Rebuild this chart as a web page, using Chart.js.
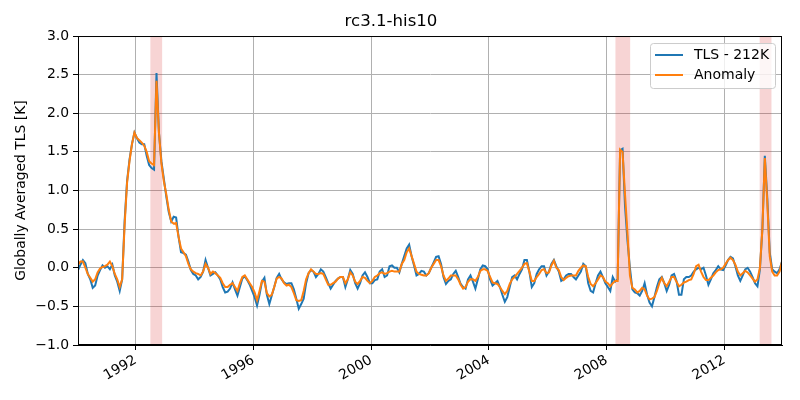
<!DOCTYPE html>
<html>
<head>
<meta charset="utf-8">
<script src="https://cdn.jsdelivr.net/npm/chart.js@4.4.0/dist/chart.umd.min.js"></script>
<style>
  body { margin: 0; background: #fff; }
  canvas { display: block; }
</style>
</head>
<body>
<canvas id="grafica" width="800" height="400"></canvas>
<script>
// monthly series, Jan 1990 .. Dec 2013 (one row per year)
const anioInicio = 1990;
const tls = [
  -0.03, 0.04, 0.10, 0.06, -0.08, -0.15, -0.26, -0.23, -0.10, -0.03, 0.03, 0.00,
  0.02, -0.02, 0.04, -0.10, -0.18, -0.30, -0.15, 0.60, 1.12, 1.40, 1.60, 1.75,
  1.68, 1.62, 1.60, 1.60, 1.45, 1.33, 1.29, 1.27, 2.52, 1.75, 1.38, 1.15,
  0.92, 0.72, 0.60, 0.66, 0.65, 0.40, 0.20, 0.19, 0.17, 0.08, -0.03, -0.08,
  -0.10, -0.15, -0.12, -0.05, 0.10, 0.00, -0.10, -0.08, -0.06, -0.10, -0.15, -0.25,
  -0.32, -0.31, -0.27, -0.19, -0.28, -0.36, -0.25, -0.14, -0.11, -0.16, -0.22, -0.30,
  -0.38, -0.49, -0.35, -0.18, -0.13, -0.35, -0.47, -0.36, -0.25, -0.13, -0.08, -0.15,
  -0.19, -0.21, -0.20, -0.20, -0.28, -0.40, -0.53, -0.47, -0.40, -0.20, -0.07, -0.03,
  -0.05, -0.12, -0.08, -0.02, -0.05, -0.12, -0.20, -0.27, -0.22, -0.17, -0.14, -0.12,
  -0.12, -0.25, -0.15, -0.03, -0.08, -0.20, -0.27, -0.20, -0.10, -0.06, -0.12, -0.20,
  -0.20, -0.16, -0.15, -0.05, -0.02, -0.12, -0.10, 0.02, 0.03, 0.00, 0.00, -0.06,
  0.05, 0.15, 0.25, 0.30, 0.15, 0.03, -0.10, -0.08, -0.04, -0.05, -0.10, -0.07,
  0.00, 0.07, 0.14, 0.15, 0.05, -0.12, -0.21, -0.17, -0.15, -0.08, -0.04, -0.12,
  -0.21, -0.25, -0.27, -0.15, -0.10, -0.18, -0.27, -0.15, -0.02, 0.03, 0.02, -0.02,
  -0.15, -0.23, -0.20, -0.17, -0.25, -0.35, -0.44, -0.38, -0.25, -0.12, -0.10, -0.15,
  -0.08, -0.02, 0.10, 0.10, -0.05, -0.25, -0.20, -0.08, -0.02, 0.02, 0.02, -0.10,
  -0.05, 0.05, 0.10, 0.02, -0.05, -0.17, -0.15, -0.10, -0.08, -0.08, -0.12, -0.15,
  -0.10, -0.05, 0.05, 0.02, -0.20, -0.30, -0.32, -0.20, -0.10, -0.05, -0.12, -0.20,
  -0.25, -0.30, -0.12, -0.18, -0.15, 1.52, 1.54, 0.80, 0.35, 0.00, -0.28, -0.32,
  -0.33, -0.36, -0.30, -0.20, -0.35, -0.45, -0.50, -0.38, -0.25, -0.15, -0.12, -0.20,
  -0.30, -0.22, -0.10, -0.08, -0.17, -0.35, -0.35, -0.15, -0.12, -0.12, -0.10, -0.05,
  -0.02, 0.00, -0.02, 0.00, -0.10, -0.22, -0.15, -0.07, -0.03, 0.02, -0.02, -0.03,
  0.03, 0.10, 0.14, 0.12, 0.02, -0.10, -0.17, -0.10, -0.02, 0.00, -0.05, -0.12,
  -0.20, -0.24, -0.02, 0.50, 1.45, 0.90, 0.20, -0.02, -0.05, -0.07, -0.02, 0.08
];
const anomalia = [
  0.04, 0.08, 0.08, 0.00, -0.08, -0.13, -0.18, -0.15, -0.06, -0.01, 0.01, 0.02,
  0.04, 0.08, 0.02, -0.08, -0.15, -0.25, -0.15, 0.55, 1.10, 1.38, 1.60, 1.75,
  1.68, 1.65, 1.62, 1.58, 1.50, 1.38, 1.35, 1.33, 2.42, 1.75, 1.35, 1.12,
  0.95, 0.75, 0.60, 0.57, 0.58, 0.40, 0.25, 0.20, 0.15, 0.05, -0.02, -0.05,
  -0.07, -0.08, -0.10, -0.05, 0.05, 0.00, -0.08, -0.05, -0.07, -0.10, -0.13, -0.20,
  -0.25, -0.25, -0.22, -0.20, -0.25, -0.30, -0.20, -0.12, -0.10, -0.15, -0.20, -0.25,
  -0.32, -0.42, -0.30, -0.17, -0.18, -0.33, -0.37, -0.35, -0.25, -0.14, -0.12, -0.14,
  -0.20, -0.23, -0.22, -0.25, -0.33, -0.42, -0.43, -0.42, -0.30, -0.15, -0.07, -0.02,
  -0.05, -0.08, -0.08, -0.07, -0.08, -0.15, -0.22, -0.22, -0.20, -0.18, -0.14, -0.12,
  -0.12, -0.20, -0.15, -0.06, -0.10, -0.18, -0.21, -0.17, -0.12, -0.13, -0.17, -0.20,
  -0.17, -0.12, -0.10, -0.07, -0.06, -0.08, -0.07, -0.05, -0.04, -0.05, -0.05, -0.05,
  0.05, 0.10, 0.20, 0.25, 0.15, 0.05, -0.05, -0.08, -0.09, -0.10, -0.10, -0.07,
  0.00, 0.05, 0.10, 0.10, 0.02, -0.10, -0.17, -0.14, -0.10, -0.10, -0.10, -0.15,
  -0.22, -0.27, -0.25, -0.18, -0.15, -0.15, -0.17, -0.12, -0.04, -0.02, -0.02, -0.04,
  -0.12, -0.19, -0.20, -0.21, -0.25, -0.30, -0.34, -0.30, -0.21, -0.15, -0.12, -0.08,
  -0.04, 0.00, 0.05, 0.06, -0.05, -0.17, -0.17, -0.12, -0.08, -0.03, -0.02, -0.07,
  -0.06, 0.03, 0.09, 0.00, -0.03, -0.12, -0.16, -0.13, -0.11, -0.10, -0.10, -0.10,
  -0.04, 0.00, 0.03, 0.02, -0.12, -0.21, -0.24, -0.20, -0.15, -0.10, -0.12, -0.18,
  -0.20, -0.24, -0.20, -0.17, -0.17, 1.53, 1.50, 0.95, 0.45, -0.10, -0.26, -0.28,
  -0.32, -0.30, -0.26, -0.28, -0.36, -0.41, -0.40, -0.38, -0.30, -0.20, -0.13, -0.20,
  -0.24, -0.18, -0.12, -0.12, -0.18, -0.24, -0.22, -0.19, -0.18, -0.16, -0.15, -0.08,
  0.02, 0.04, -0.05, -0.12, -0.16, -0.16, -0.13, -0.10, -0.06, -0.03, -0.02, 0.00,
  0.05, 0.10, 0.13, 0.10, 0.04, -0.05, -0.10, -0.07, -0.04, -0.06, -0.10, -0.14,
  -0.18, -0.15, 0.00, 0.50, 1.42, 0.85, 0.15, -0.05, -0.10, -0.10, -0.05, 0.08
];
const ticksX = [1992, 1996, 2000, 2004, 2008, 2012];
const ticksY = [-1.0, -0.5, 0.0, 0.5, 1.0, 1.5, 2.0, 2.5, 3.0];
// shaded periods (decimal years)
const franjas = [[1992.5, 1992.9], [2008.3, 2008.8], [2013.2, 2013.6]];

// mid-month decimal year for each sample
const meses = tls.map((_, i) => anioInicio + (i + 0.5) / 12);
const puntos = (serie) => serie.map((v, i) => ({ x: meses[i], y: v }));

const fuente = 'DejaVu Sans';
const series = [
  { nombre: 'TLS - 212K', color: '#1f77b4' },
  { nombre: 'Anomaly', color: '#ff7f0e' }
];

const pluginFranjas = {
  id: 'franjas',
  beforeDatasetsDraw(chart) {
    const { ctx, chartArea, scales } = chart;
    ctx.save();
    ctx.fillStyle = 'rgba(214, 39, 40, 0.2)';
    franjas.forEach(([a, b]) => {
      const x1 = scales.x.getPixelForValue(a);
      const x2 = scales.x.getPixelForValue(b);
      ctx.fillRect(x1, chartArea.top, x2 - x1, chartArea.bottom - chartArea.top);
    });
    ctx.restore();
  },
  afterDraw(chart) {
    const { ctx, chartArea } = chart;
    ctx.save();
    // marco completo
    ctx.strokeStyle = '#000';
    ctx.lineWidth = 1;
    ctx.strokeRect(chartArea.left + 0.5, chartArea.top + 0.5,
      chartArea.right - chartArea.left - 1, chartArea.bottom - chartArea.top - 1);
    // leyenda
    const bx = chartArea.right - 132, by = chartArea.top + 7, bw = 125, bh = 45;
    ctx.fillStyle = 'rgba(255,255,255,0.8)';
    ctx.strokeStyle = '#cccccc';
    ctx.beginPath();
    ctx.roundRect(bx + 0.5, by + 0.5, bw, bh, 3);
    ctx.fill();
    ctx.stroke();
    ctx.font = '14px "' + fuente + '"';
    ctx.textBaseline = 'middle';
    series.forEach((s, i) => {
      const y = by + 12 + i * 20;
      ctx.strokeStyle = s.color;
      ctx.lineWidth = 2;
      ctx.beginPath();
      ctx.moveTo(bx + 5, y);
      ctx.lineTo(bx + 33, y);
      ctx.stroke();
      ctx.fillStyle = '#000';
      ctx.fillText(s.nombre, bx + 44, y);
    });
    ctx.restore();
  }
};

const menos = (t) => String(t).replace('-', '\u2212');

new Chart(document.getElementById('grafica'), {
  type: 'line',
  data: {
    datasets: [
      { label: series[0].nombre, data: puntos(tls), borderColor: series[0].color, borderWidth: 2, pointRadius: 0, order: 1 },
      { label: series[1].nombre, data: puntos(anomalia), borderColor: series[1].color, borderWidth: 2, pointRadius: 0, order: 0 }
    ]
  },
  options: {
    responsive: false,
    animation: false,
    layout: { padding: { left: 0, right: 18, top: 0, bottom: 0 } },
    plugins: {
      legend: { display: false },
      tooltip: { enabled: false },
      title: {
        display: true,
        text: 'rc3.1-his10',
        color: '#000',
        font: { family: fuente, size: 16.6, weight: 'normal' },
        padding: { top: 12, bottom: 4.1 }
      }
    },
    scales: {
      x: {
        type: 'linear',
        min: meses[0],
        max: meses[meses.length - 1],
        afterBuildTicks: (eje) => { eje.ticks = ticksX.map(v => ({ value: v })); },
        afterFit: (eje) => { eje.height = 55; },
        ticks: {
          autoSkip: false,
          minRotation: 30,
          maxRotation: 30,
          padding: 2,
          color: '#000',
          font: { family: fuente, size: 13.9 },
          callback: (v) => String(v)
        },
        grid: { color: '#b0b0b0', tickColor: '#000', tickLength: 5 },
        border: { color: '#000', width: 1 }
      },
      y: {
        min: -1,
        max: 3,
        afterBuildTicks: (eje) => { eje.ticks = ticksY.map(v => ({ value: v })); },
        afterFit: (eje) => { eje.width = 78; },
        ticks: {
          padding: 4,
          color: '#000',
          font: { family: fuente, size: 13.9 },
          callback: (v) => menos(v.toFixed(1))
        },
        grid: { color: '#b0b0b0', tickColor: '#000', tickLength: 5 },
        border: { color: '#000', width: 1 },
        title: {
          display: true,
          text: 'Globally Averaged TLS [K]',
          color: '#000',
          font: { family: fuente, size: 13.9 },
          padding: { top: 13, bottom: 0 }
        }
      }
    }
  },
  plugins: [pluginFranjas]
});
</script>
</body>
</html>
